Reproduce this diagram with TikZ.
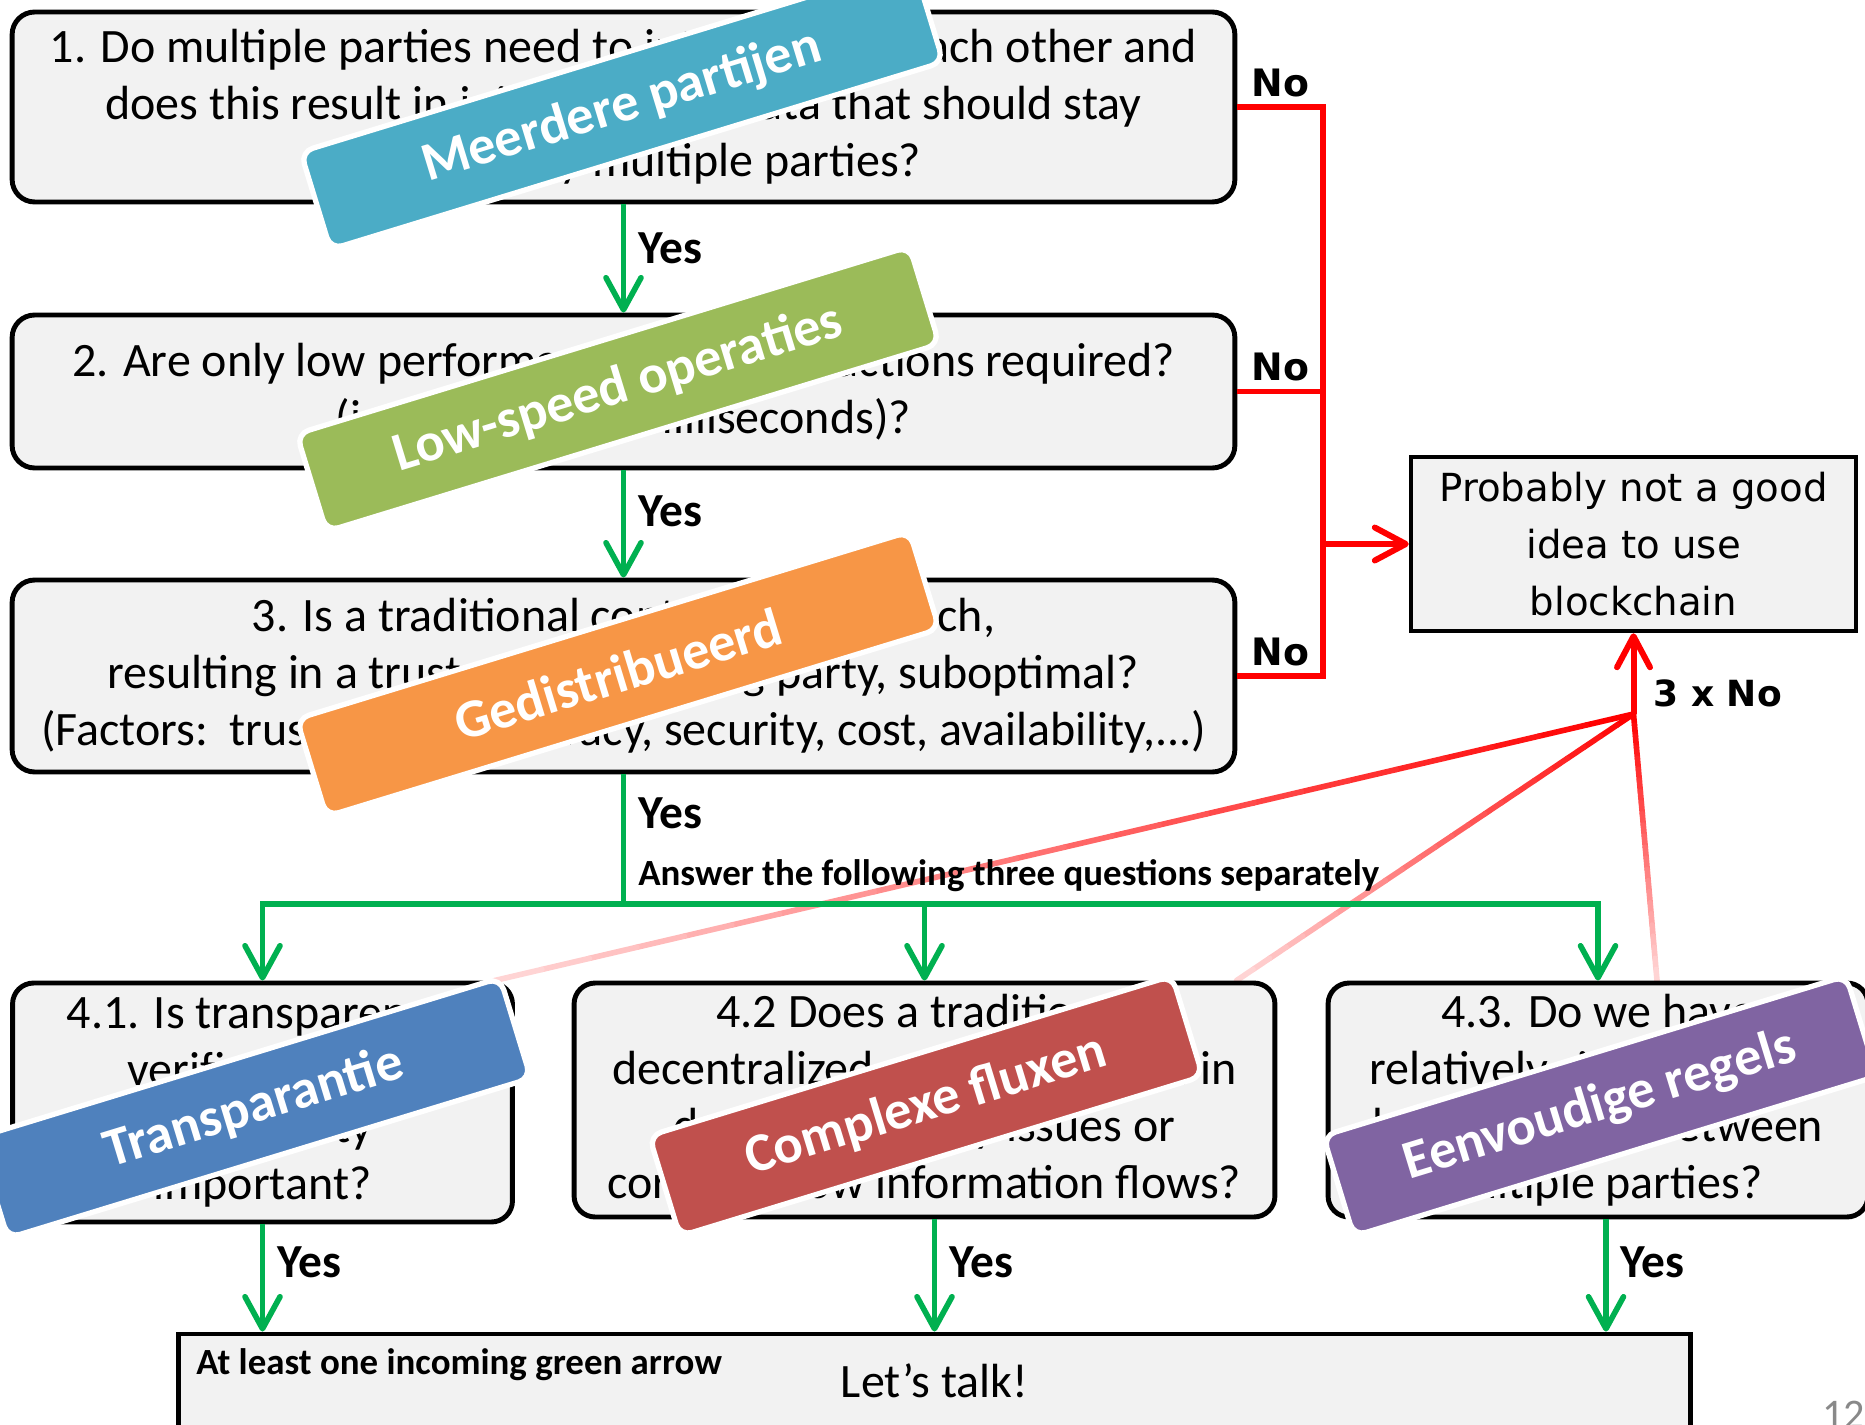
\documentclass[tikz,border=0pt]{standalone}
\usepackage{fontspec}
\setmainfont{Carlito}
\newfontfamily\verdfont{DejaVu Sans}
\usetikzlibrary{arrows.meta,calc,backgrounds}

\definecolor{boxgray}{HTML}{F2F2F2}
\definecolor{yesgreen}{HTML}{00B050}
\definecolor{nored}{HTML}{FF0000}
\definecolor{aqua}{HTML}{4BACC6}
\definecolor{leaf}{HTML}{9BBB59}
\definecolor{tangerine}{HTML}{F79646}
\definecolor{steel}{HTML}{4F81BD}
\definecolor{brick}{HTML}{C0504D}
\definecolor{plum}{HTML}{8064A2}
\definecolor{pagegray}{HTML}{898989}

\tikzset{
  question/.style={draw, line width=2.8pt, fill=boxgray, rounded corners=0.45cm,
    align=center, inner sep=0pt, font=\fontsize{27.3}{32.4}\selectfont},
  verdict/.style={draw, line width=2.6pt, fill=boxgray, align=center, inner sep=0pt,
    font=\verdfont\fontsize{22}{32.4}\selectfont},
  banner/.style={draw=white, line width=3pt, rounded corners=0.25cm, rotate=17,
    text=white, inner sep=0pt, font=\fontsize{31}{37}\selectfont\bfseries},
  yesline/.style={yesgreen, line width=3.2pt},
  yes/.style={yesline, -{Straight Barb[length=0.64cm,width=0.7cm,round]}},
  no/.style={nored, line width=3.4pt},
  noarrow/.style={no, -{Straight Barb[length=0.62cm,width=0.66cm,round]}},
  faded/.style={line width=3.2pt, line cap=round},
  yeslabel/.style={right, inner sep=0pt, xshift=0.24cm, text=black,
    font=\fontsize{27}{30}\selectfont\bfseries},
  nolabel/.style={above, inner sep=4pt, text=black, font=\verdfont\fontsize{21.5}{24}\selectfont\bfseries},
  note/.style={inner sep=0pt, text=black, font=\fontsize{21}{25}\selectfont\bfseries},
}

\begin{document}
\begin{tikzpicture}[x=0.02cm, y=-0.02cm]
\useasboundingbox (0,0) rectangle (1865,1425);

% main questions
\node[question, minimum width=24.46cm, minimum height=3.8cm] (q1) at (623.5,107)
  {1. Do multiple parties need to interact with each other and\\
   does this result in jointly shared data that should stay\\
   controlled by multiple parties?};
\node[question, minimum width=24.46cm, minimum height=3.06cm] (q2) at (623.5,391.5)
  {2. Are only low performance data transactions required?\\
   (i.e. not within milliseconds)?};
\node[question, minimum width=24.46cm, minimum height=3.84cm] (q3) at (623.5,676)
  {3. Is a traditional controlled approach,\\
   resulting in a trusted coordinating party, suboptimal?\\
   (Factors:\ \ trust, control, privacy, security, cost, availability,...)};

% the three separate questions
\node[question, rounded corners=0.42cm, minimum width=10cm, minimum height=4.78cm] (q41) at (262.5,1102.5)
  {4.1. Is transparency,\\ verifiability or\\ auditability\\ important?};
\node[question, rounded corners=0.42cm, minimum width=14.02cm, minimum height=4.68cm] (q42) at (924.5,1100)
  {4.2 Does a traditional\\ decentralized approach result in\\ data consistency issues or\\ corrupt, slow information flows?};
\node[question, rounded corners=0.42cm, minimum width=10.8cm, minimum height=4.68cm] (q43) at (1598,1100)
  {4.3. Do we have\\ relatively simple, stable\\ business logic between\\ multiple parties?};

\node[verdict, minimum width=8.9cm, minimum height=3.48cm] (verdict) at (1633.5,544)
  {Probably not a good\\ idea to use\\ blockchain};
\node[question, rounded corners=0pt, minimum width=30.26cm, minimum height=1.88cm] (talk) at (934.5,1381)
  {Let’s talk!};
\node[note, anchor=west] (talknote) at (196,1365) {At least one incoming green arrow};

% yes path
\coordinate (bus) at (623.5,904);
\draw[yes] (q1.south) -- node[yeslabel, pos=0.41]{Yes} (q2.north);
\draw[yes] (q2.south) -- node[yeslabel, pos=0.38]{Yes} (q3.north);
\draw[yesline] (q3.south) -- node[yeslabel, pos=0.3]{Yes}
  node[note, right, xshift=0.24cm, pos=0.78]{Answer the following three questions separately} (bus);
\draw[yes] (bus) -| (q41.north);
\draw[yes] (bus) -| (q42.north);
\draw[yes] (bus) -| (q43.north);

\coordinate (out42) at ($(q42.south)+(10,0)$);
\coordinate (out43) at ($(q43.south)+(8,0)$);
\draw[yes] (q41.south) -- node[yeslabel, pos=0.35]{Yes} (q41.south |- talk.north);
\draw[yes] (out42) -- node[yeslabel, pos=0.38]{Yes} (out42 |- talk.north);
\draw[yes] (out43) -- node[yeslabel, pos=0.38]{Yes} (out43 |- talk.north);

% no path
\coordinate (jn) at (1323,544);
\draw[no] (q1.east) -- node[nolabel]{No} (q1.east -| jn) -- (q3.east -| jn)
  -- node[nolabel]{No} (q3.east);
\draw[no] (q2.east) -- node[nolabel]{No} (q2.east -| jn);
\draw[noarrow] (jn) -- (verdict.west);

\coordinate (hub) at (1633.5,714);
\draw[noarrow] (hub) -- node[pos=0.25, right=0.34cm, inner sep=0pt, text=black,
  font=\verdfont\fontsize{20.5}{24}\selectfont\bfseries]{3 x No} (verdict.south);

\coordinate (fade41) at ($(q41.north)+(232,0)$);
\coordinate (fade42) at ($(q42.north)+(312,0)$);
\coordinate (fade43) at ($(q43.north)+(59,0)$);
\begin{scope}[on background layer]
  \foreach \target in {fade41,fade42,fade43} {
    \foreach \s in {0,...,23} {
      \pgfmathsetmacro\fa{\s/24}
      \pgfmathsetmacro\fb{(\s+1)/24}
      \pgfmathtruncatemacro\tint{100-3.6*\s}
      \draw[faded, draw=nored!\tint!white] ($(hub)!\fa!(\target)$) -- ($(hub)!\fb!(\target)$);
    }
  }
\end{scope}

% labels on top
\node[banner, fill=aqua, minimum width=12.82cm, minimum height=2.04cm] (b1) at (622,107) {Meerdere partijen};
\node[banner, fill=leaf, minimum width=12.82cm, minimum height=2.04cm] (b2) at (618,389) {Low-speed operaties};
\node[banner, fill=tangerine, minimum width=12.82cm, minimum height=2.04cm] (b3) at (618,674) {Gedistribueerd};
\node[banner, fill=steel, minimum width=10.94cm, minimum height=2.1cm] (b4) at (254,1108) {Transparantie};
\node[banner, fill=brick, minimum width=10.94cm, minimum height=2.1cm] (b5) at (926,1106) {Complexe fluxen};
\node[banner, fill=plum, minimum width=10.94cm, minimum height=2.1cm] (b6) at (1600,1106) {Eenvoudige regels};

\node[anchor=north west, inner sep=0pt, text=pagegray, font=\fontsize{24}{28}\selectfont] (pageno) at (1822,1401) {12};
\end{tikzpicture}
\end{document}
